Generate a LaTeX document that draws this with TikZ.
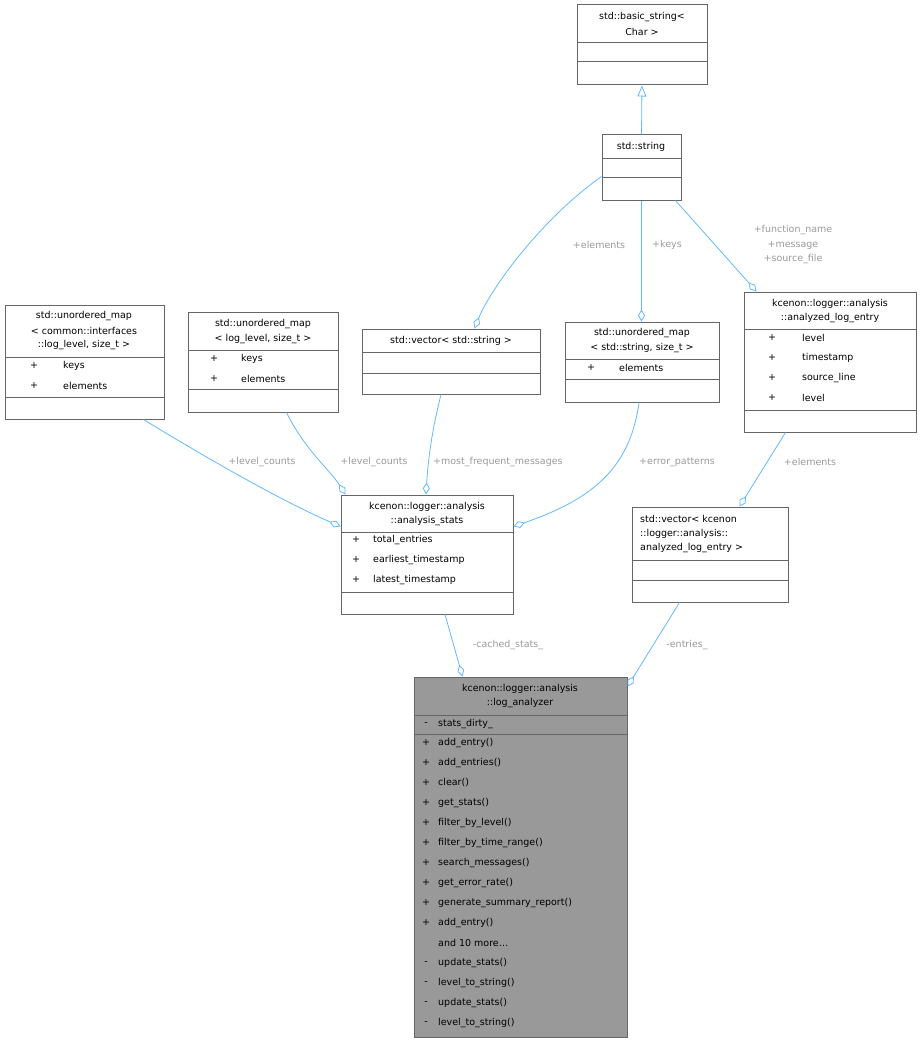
\documentclass[tikz,border=0pt]{standalone}
\usepackage{fontspec}
\setmainfont{DejaVu Sans}
\usetikzlibrary{arrows.meta, calc}

\definecolor{edgeblue}{HTML}{63B8FF}
\definecolor{boxgray}{HTML}{666666}
\definecolor{lblgray}{HTML}{9A9A9A}
\definecolor{mainfill}{HTML}{999999}

\tikzset{
    cls/.style={draw=boxgray, line width=1pt, inner sep=0pt},
    txt/.style={inner sep=0pt, font=\fontsize{9.5}{11}\selectfont},
    lbl/.style={txt, text=lblgray, align=center},
    member/.style={edge, -{Diamond[open, length=12pt, width=7pt]}},
    edge/.style={draw=edgeblue, line width=0.8pt},
}

% box from (x1,y1) to (x2,y2) with two separators
\newcommand{\umlbox}[8][white]{%
    \node[cls, fill=#1, minimum width={(#5-#3)*1pt}, minimum height={(#6-#4)*1pt}]
        (#2) at ({(#3+#5)/2}, {(#4+#6)/2}) {};
    \draw[boxgray, line width=1pt] (#3, #7) -- (#5, #7) (#3, #8) -- (#5, #8);
}

\begin{document}
\begin{tikzpicture}[x=1pt, y=-1pt]
    \useasboundingbox (0, 0) rectangle (921, 1043);

    % classes
    \umlbox{bstr}{577}{5}{707}{85}{43}{62}
    \node[txt] at (642, 17) {std::basic\_string<};
    \node[txt] at (642, 32) {Char >};

    \umlbox{str}{602}{135}{681}{200}{159}{178}
    \node[txt] at (641, 147) {std::string};

    \umlbox{ucommon}{5}{305}{164}{419}{357}{397}
    \node[txt] at (84, 316) {std::unordered\_map};
    \node[txt] at (84, 331) {< common::interfaces};
    \node[txt] at (84, 345) {::log\_level, size\_t >};
    \node[txt] at (34, 366) {+};  \node[txt, anchor=west] at (63, 366) {keys};
    \node[txt] at (34, 386) {+};  \node[txt, anchor=west] at (63, 386) {elements};

    \umlbox{ulevel}{188}{312}{338}{412}{350}{389}
    \node[txt] at (263, 324) {std::unordered\_map};
    \node[txt] at (263, 339) {< log\_level, size\_t >};
    \node[txt] at (214, 359) {+};  \node[txt, anchor=west] at (241, 359) {keys};
    \node[txt] at (214, 379) {+};  \node[txt, anchor=west] at (241, 379) {elements};

    \umlbox{vstr}{362}{329}{540}{394}{352}{373}
    \node[txt] at (451, 341) {std::vector< std::string >};

    \umlbox{ustr}{565}{322}{719}{402}{359}{379}
    \node[txt] at (642, 333) {std::unordered\_map};
    \node[txt] at (642, 348) {< std::string, size\_t >};
    \node[txt] at (591, 368) {+};  \node[txt, anchor=west] at (619, 368) {elements};

    \umlbox{entry}{744}{292}{916}{432}{329}{410}
    \node[txt] at (830, 304) {kcenon::logger::analysis};
    \node[txt] at (830, 318) {::analyzed\_log\_entry};
    \foreach \name [count=\i from 0] in {level, timestamp, source\_line, level} {
        \node[txt] at (772, 338+20*\i) {+};
        \node[txt, anchor=west] at (802, 338+20*\i) {\name};
    }

    \umlbox{stats}{341}{495}{513}{614}{532}{592}
    \node[txt] at (427, 507) {kcenon::logger::analysis};
    \node[txt] at (427, 521) {::analysis\_stats};
    \foreach \name [count=\i from 0] in {total\_entries, earliest\_timestamp, latest\_timestamp} {
        \node[txt] at (356, 540+20*\i) {+};
        \node[txt, anchor=west] at (373, 540+20*\i) {\name};
    }

    \umlbox{ventry}{632}{507}{788}{602}{560}{580}
    \node[txt, anchor=west] at (640, 519) {std::vector< kcenon};
    \node[txt, anchor=west] at (640, 534) {::logger::analysis::};
    \node[txt, anchor=west] at (640, 548) {analyzed\_log\_entry >};

    \umlbox[mainfill]{analyzer}{414}{677}{627}{1037}{715}{734}
    \node[txt] at (520, 689) {kcenon::logger::analysis};
    \node[txt] at (520, 703) {::log\_analyzer};
    \node[txt] at (426, 724) {-};  \node[txt, anchor=west] at (438, 724) {stats\_dirty\_};
    \foreach \s/\name [count=\i from 0] in {+/add\_entry(), +/add\_entries(), +/clear(),
        +/get\_stats(), +/filter\_by\_level(), +/filter\_by\_time\_range(),
        +/search\_messages(), +/get\_error\_rate(), +/generate\_summary\_report(),
        +/add\_entry(), /and 10 more\dots, -/update\_stats(), -/level\_to\_string(),
        -/update\_stats(), -/level\_to\_string()} {
        \node[txt] at (426, 743+20*\i) {\s};
        \node[txt, anchor=west] at (438, 743+20*\i) {\name};
    }

    % connectors
    \draw[edge, -{Triangle[open, length=11pt, width=9pt]}] (str.north) -- (bstr.south);
    \draw[member] ([yshift=-9pt]str.west) .. controls (540, 220) and (490, 290) .. ([xshift=-66pt]vstr.north east);
    \draw[member] (str.south) -- (ustr.north -| str.south);
    \draw[member] ([xshift=-6pt]str.south east) -- ([xshift=13pt]entry.north west);
    \draw[member] ([xshift=-21pt]ucommon.south east) .. controls (210, 460) and (280, 500) .. ([yshift=-32pt]stats.north west);
    \draw[member] ([xshift=-52pt]ulevel.south east) .. controls (305, 450) and (330, 470) .. ([xshift=5pt]stats.north west);
    \draw[member] ([xshift=-10pt]vstr.south) .. controls (432, 430) and (428, 460) .. ([xshift=-1pt]stats.north);
    \draw[member] ([xshift=-3pt]ustr.south) .. controls (630, 470) and (590, 500) .. ([yshift=-32pt]stats.north east);
    \draw[member] ([xshift=42pt]entry.south west) -- ([xshift=108pt]ventry.north west);
    \draw[member] ([xshift=18pt]stats.south) -- ([xshift=49pt]analyzer.north west);
    \draw[member] ([xshift=48pt]ventry.south west) -- ([yshift=-10pt]analyzer.north east);

    % labels
    \node[lbl] at (599, 245) {+elements};
    \node[lbl] at (667, 245) {+keys};
    \node[lbl, font=\fontsize{9.5}{14.5}\selectfont] at (793, 245) {+function\_name\\+message\\+source\_file};
    \node[lbl] at (262, 462) {+level\_counts};
    \node[lbl] at (374, 462) {+level\_counts};
    \node[lbl, anchor=west] at (433, 462) {+most\_frequent\_messages};
    \node[lbl] at (677, 462) {+error\_patterns};
    \node[lbl] at (810, 462) {+elements};
    \node[lbl] at (508, 645) {-cached\_stats\_};
    \node[lbl] at (687, 645) {-entries\_};
\end{tikzpicture}
\end{document}
